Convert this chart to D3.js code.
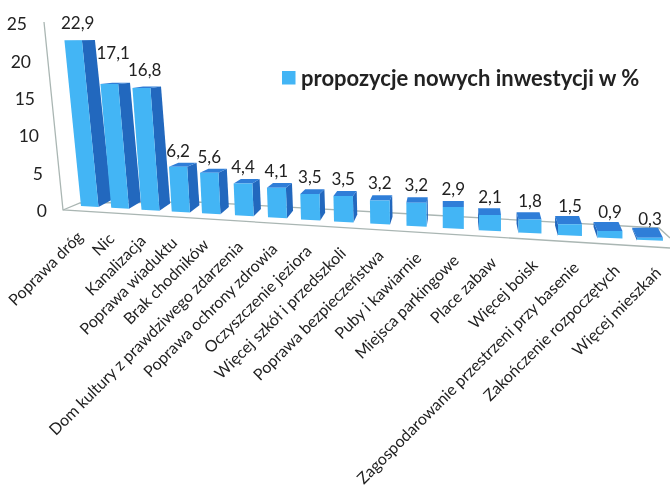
<!DOCTYPE html>
<html>
<head>
<meta charset="utf-8">
<script src="https://cdnjs.cloudflare.com/ajax/libs/d3/7.8.5/d3.min.js"></script>
<style>
  html, body { margin: 0; padding: 0; background: #fff; }
  svg { display: block; filter: blur(0.4px); }
  text { font-family: Lato, "Open Sans", sans-serif; fill: #222; }
</style>
</head>
<body>
<svg class="chart" width="670" height="486"></svg>
<script>
const categories = ['Poprawa dróg', 'Nic', 'Kanalizacja', 'Poprawa wiaduktu', 'Brak chodników',
  'Dom kultury z prawdziwego zdarzenia', 'Poprawa ochrony zdrowia', 'Oczyszczenie jeziora',
  'Więcej szkół i przedszkoli', 'Poprawa bezpieczeństwa', 'Puby i kawiarnie', 'Miejsca parkingowe',
  'Place zabaw', 'Więcej boisk', 'Zagospodarowanie przestrzeni przy basenie',
  'Zakończenie rozpoczętych', 'Więcej mieszkań'];
const values = [22.9, 17.1, 16.8, 6.2, 5.6, 4.4, 4.1, 3.5, 3.5, 3.2, 3.2, 2.9, 2.1, 1.8, 1.5, 0.9, 0.3];
const yTicks = [0, 5, 10, 15, 20, 25];
const legendLabel = 'propozycje nowych inwestycji w %';

const chart = d3.select('.chart');
const fmt = (v) => String(v).replace('.', ',');

// the picture is a 3d column chart, so the scales below describe the tilted floor
const x = d3.scaleLinear().domain([0, 4, 8, 12, 16]).range([81, 202, 334, 479, 637]);
const floorY = d3.scaleLinear().domain([81, 640]).range([206, 240]);
const barW = d3.scaleLinear().domain([81, 400, 640]).range([17.5, 20, 26]);
const depthX = d3.scaleLinear().domain([81, 170, 442, 640]).range([13, 9.5, 0, -5]);
const depthY = d3.scaleLinear().domain([81, 400, 640]).range([5, 6, 10]);
const lean = d3.scaleLinear().domain([81, 200, 442]).range([0.1, 0.05, 0]).clamp(true);
const h = d3.scaleLinear().domain([0, 25]).range([0, 181]);
const labelX = d3.scaleLinear().domain([81, 637]).range([84, 662]);
const labelY = d3.scaleLinear().domain([81, 637]).range([238, 274]);
const labelGap = d3.scaleLinear().domain([442, 640]).range([6, 3]).clamp(true);

// y axis labels, they follow the slanted wall
const yAxisScale = d3.scaleLinear().domain([0, 25]).range([211, 24]);

const grid = chart.append('g').attr('fill', 'none').attr('stroke', '#aab6b3').attr('stroke-width', 1.3);
grid.append('path').attr('d', d3.line()([[44, 22], [63, 210], [670, 248]]));
grid.append('path').attr('d', d3.line()([[63, 210], [80, 203], [197, 202], [430, 215], [659, 228], [670, 238]]));

chart.append('g').selectAll('text').data(yTicks).join('text')
  .attr('x', (d) => 47 - (211 - yAxisScale(d)) * 0.107)
  .attr('y', (d) => yAxisScale(d))
  .attr('dy', '0.35em')
  .attr('text-anchor', 'end')
  .attr('font-size', 17.5)
  .text((d) => d);

const bars = chart.append('g').selectAll('g').data(values).join('g');

const geom = (v, i) => {
  const x0 = x(i);
  const y0 = floorY(x0);
  const w = barW(x0);
  const hh = h(v);
  const dx = depthX(x0);
  const dyBottom = depthY(x0) + 2;
  const dyTop = depthY(x0) * (1 - hh / 170);
  const tx = x0 - hh * lean(x0);
  const ty = y0 - hh;
  return {x0, y0, w, hh, dx, dyBottom, dyTop, tx, ty};
};

const poly = (pts) => d3.line()(pts) + 'Z';

// side face, on the right for the left bars and the other way round
bars.append('path')
  .attr('fill', '#2268be')
  .attr('d', (v, i) => {
    const g = geom(v, i);
    const ex = g.dx >= 0 ? g.w : 0;
    return poly([[g.x0 + ex, g.y0 + 1], [g.tx + ex, g.ty],
      [g.tx + ex + g.dx, g.ty - g.dyTop], [g.x0 + ex + g.dx, g.y0 + 1 - g.dyBottom]]);
  });

// top face
bars.append('path')
  .attr('fill', '#2f7ed8')
  .attr('d', (v, i) => {
    const g = geom(v, i);
    return poly([[g.tx, g.ty], [g.tx + g.w, g.ty],
      [g.tx + g.w + g.dx, g.ty - g.dyTop], [g.tx + g.dx, g.ty - g.dyTop]]);
  });

// front face
bars.append('path')
  .attr('fill', '#43b5f5')
  .attr('d', (v, i) => {
    const g = geom(v, i);
    return poly([[g.x0, g.y0], [g.tx, g.ty], [g.tx + g.w, g.ty], [g.x0 + g.w, g.y0 + 1]]);
  });

// value labels, the tall ones sit higher and 17,1 clears the first bar
bars.append('text')
  .attr('x', (v, i) => {
    const g = geom(v, i);
    return g.tx + g.w / 2 + (v > 10 ? g.dx / 2 - 2 : 0);
  })
  .attr('y', (v, i) => {
    const g = geom(v, i);
    const gap = i === 1 ? 24 : (v > 10 ? 11 : labelGap(g.x0));
    return g.ty - g.dyTop - gap;
  })
  .attr('text-anchor', 'middle')
  .attr('font-size', 17)
  .text((v) => fmt(v));

// category labels
chart.append('g').selectAll('text').data(categories).join('text')
  .attr('text-anchor', 'end')
  .attr('font-size', 16)
  .attr('transform', (d, i) => 'translate(' + labelX(x(i)) + ',' + labelY(x(i)) + ') rotate(-45)')
  .text((d) => d);

// legend
chart.append('rect').attr('x', 282).attr('y', 71).attr('width', 13.5).attr('height', 13.5).attr('fill', '#43b5f5');
chart.append('text').attr('x', 301).attr('y', 86)
  .attr('font-size', 22).attr('font-weight', 700)
  .text(legendLabel);
</script>
</body>
</html>
